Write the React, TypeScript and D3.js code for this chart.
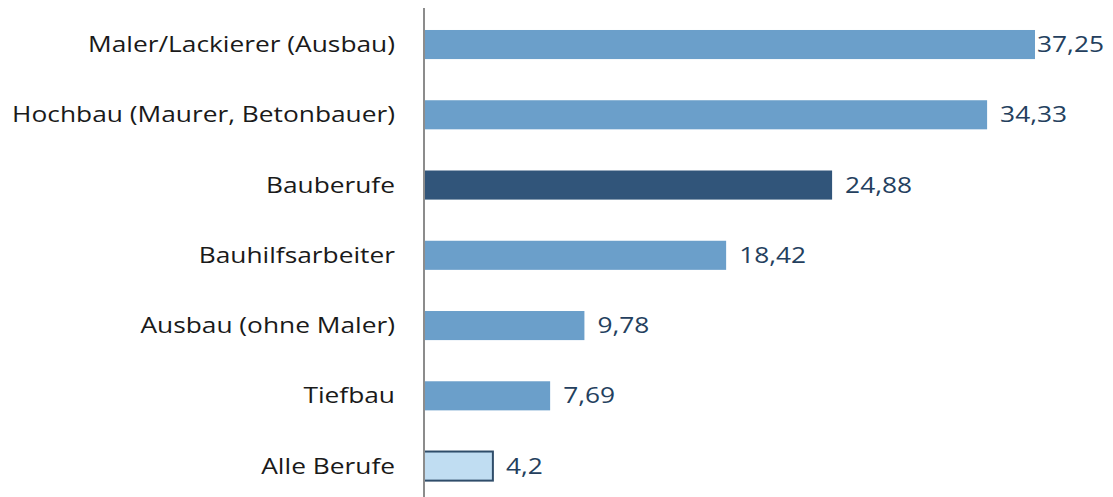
import React, { useEffect, useRef } from "react";
import * as d3 from "d3";

const categories = [
  "Maler/Lackierer (Ausbau)",
  "Hochbau (Maurer, Betonbauer)",
  "Bauberufe",
  "Bauhilfsarbeiter",
  "Ausbau (ohne Maler)",
  "Tiefbau",
  "Alle Berufe",
];
const values = [37.25, 34.33, 24.88, 18.42, 9.78, 7.69, 4.2];
const valueLabels = ["37,25", "34,33", "24,88", "18,42", "9,78", "7,69", "4,2"];
const kinds = ["normal", "normal", "highlight", "normal", "normal", "normal", "base"];

const W = 1113;
const H = 497;

export default function App() {
  const ref = useRef<SVGSVGElement | null>(null);

  useEffect(() => {
    const svg = d3.select(ref.current);
    svg.selectAll("*").remove();
    const x0 = 424;
    const x = d3.scaleLinear().domain([0, 37.25]).range([x0, 1035]);
    const y = d3
      .scaleBand()
      .domain(categories)
      .range([9.4, 501.2])
      .paddingInner(0.586)
      .paddingOuter(0.293);

    const font = "'Open Sans', sans-serif";
    const fs = 21;
    const fill = (k: string) =>
      k === "highlight" ? "#31557a" : k === "base" ? "#c0ddf2" : "#6b9fca";

    svg
      .append("g")
      .selectAll("rect")
      .data(categories)
      .join("rect")
      .attr("x", x0)
      .attr("y", (d) => y(d)!)
      .attr("width", (_, i) => x(values[i]) - x0)
      .attr("height", y.bandwidth())
      .attr("fill", (_, i) => fill(kinds[i]))
      .attr("stroke", (_, i) => (kinds[i] === "base" ? "#2f4d6a" : "none"))
      .attr("stroke-width", 2);

    svg
      .append("line")
      .attr("x1", x0)
      .attr("x2", x0)
      .attr("y1", 8)
      .attr("y2", H)
      .attr("stroke", "#8c8c8c")
      .attr("stroke-width", 2);

    // measure stretch factor from the longest label
    const probe = svg
      .append("text")
      .attr("font-family", font)
      .attr("font-size", fs)
      .text(categories[1]);
    const natural = (probe.node() as SVGTextElement).getComputedTextLength();
    probe.remove();
    const sx = 383 / natural;

    svg
      .selectAll("text.cat")
      .data(categories)
      .join("text")
      .attr("class", "cat")
      .attr(
        "transform",
        (d) => `translate(395,${y(d)! + y.bandwidth() / 2}) scale(${sx},1)`
      )
      .attr("dy", "0.36em")
      .attr("text-anchor", "end")
      .attr("font-family", font)
      .attr("font-size", fs)
      .attr("fill", "#1a1a1a")
      .text((d) => d);

    const vl = svg
      .selectAll("text.val")
      .data(categories)
      .join("text")
      .attr("class", "val")
      .attr("dy", "0.36em")
      .attr("font-family", font)
      .attr("font-size", fs)
      .attr("fill", "#243f5e")
      .text((_, i) => valueLabels[i]);
    vl.each(function (d, i) {
      const el = this as SVGTextElement;
      const w = el.getComputedTextLength() * sx;
      let px = x(values[i]) + 13;
      if (px + w > W - 9) px = Math.max(x(values[i]) + 1, W - 9 - w);
      d3.select(el).attr(
        "transform",
        `translate(${px},${y(d as string)! + y.bandwidth() / 2}) scale(${sx},1)`
      );
    });
  }, []);

  return (
    <svg
      ref={ref}
      width={W}
      height={H}
      style={{ position: "absolute", left: 0, top: 0, background: "#fff" }}
    />
  );
}
